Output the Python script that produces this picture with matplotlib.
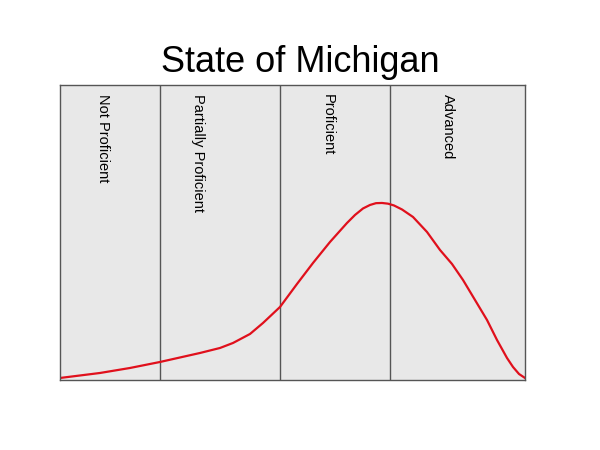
import matplotlib.pyplot as plt

plt.rcParams['font.family'] = ['Liberation Sans', 'DejaVu Sans']

# score scale (arbitrary units, 0..465) and relative frequency
score = [0, 20, 40, 70, 100, 120, 140, 160, 173, 190, 203, 220, 237, 253,
         270, 287, 295, 303, 310, 316, 322, 328, 334, 342, 353, 367, 380,
         392, 403, 415, 427, 437, 447, 453, 459, 465]
freq = [2, 4.5, 7, 12, 18, 22.5, 27, 32, 37, 46, 57, 73, 96, 117,
        138, 157, 165, 171.5, 175, 176.8, 177, 176.3, 174.5, 170.5, 163, 148, 130,
        116, 100, 80, 60, 40, 22, 13, 6, 2]

cut_points = [100, 220, 330]
levels = ["Not Proficient", "Partially Proficient", "Proficient", "Advanced"]
label_pos = [43, 138, 268, 388]

fig = plt.figure(figsize=(6, 4.5), dpi=100)
ax = fig.add_axes([0.1, 0.1556, 0.775, 0.6556])
ax.set_facecolor('#e8e8e8')
ax.set_xlim(0, 465)
ax.set_ylim(0, 295)

for c in cut_points:
    ax.axvline(c, color='#555555', lw=1)

ax.plot(score, freq, color='#e0101c', lw=1.6)

for lab, x in zip(levels, label_pos):
    ax.text(x, 286, lab, rotation=270, ha='center', va='top', fontsize=10.5)

ax.set_xticks([])
ax.set_yticks([])
for s in ax.spines.values():
    s.set_color('#555555')
    s.set_linewidth(1)

fig.text(0.5, 0.862, "State of Michigan", ha='center', va='center', fontsize=26)

fig.savefig('out.png', dpi=100)
